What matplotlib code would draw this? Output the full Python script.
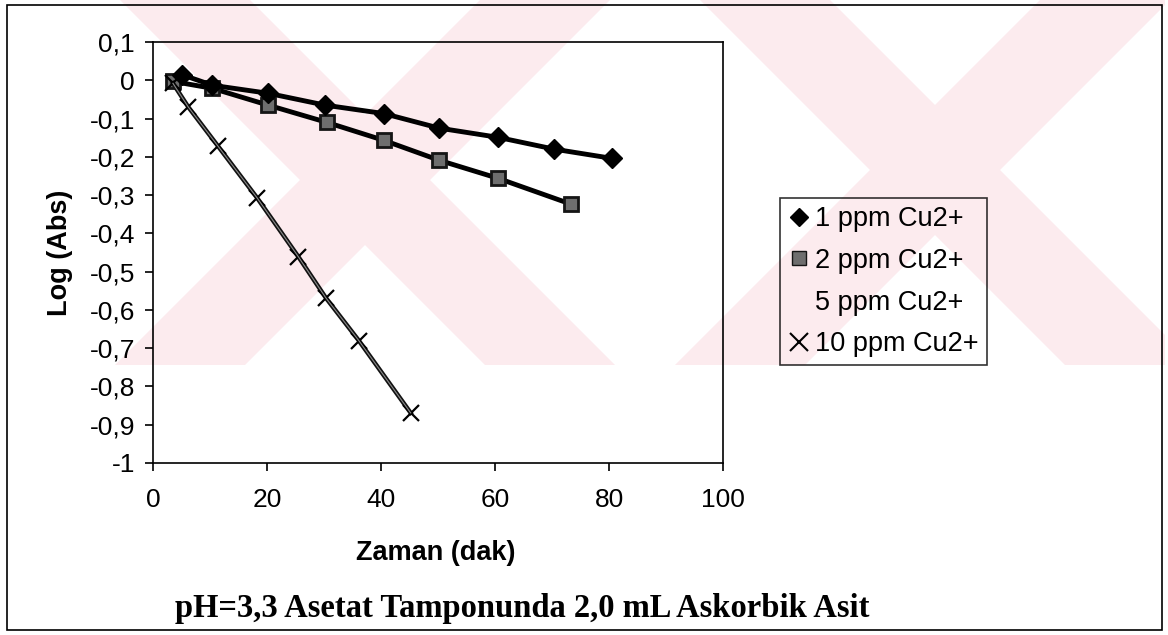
import matplotlib
matplotlib.use("Agg")
import matplotlib.pyplot as plt
from matplotlib.lines import Line2D
from matplotlib.patches import Polygon, Rectangle

# data (time in min, log absorbance)
t_1ppm = [5.0, 10.4, 20.2, 30.2, 40.5, 50.2, 60.5, 70.4, 80.5]
logabs_1ppm = [0.015, -0.013, -0.034, -0.065, -0.087, -0.125, -0.149, -0.180, -0.204]
t_2ppm = [3.5, 10.4, 20.2, 30.5, 40.5, 50.2, 60.5, 73.4]
logabs_2ppm = [-0.003, -0.021, -0.065, -0.110, -0.157, -0.209, -0.256, -0.324]
t_5ppm = []
logabs_5ppm = []
t_10ppm = [3.5, 6.2, 11.4, 18.3, 25.5, 30.3, 36.1, 45.2]
logabs_10ppm = [-0.008, -0.070, -0.172, -0.308, -0.461, -0.568, -0.680, -0.869]

labels = ["1 ppm Cu2+", "2 ppm Cu2+", "5 ppm Cu2+", "10 ppm Cu2+"]
xticks = [0, 20, 40, 60, 80, 100]
yticks = [0.1, 0, -0.1, -0.2, -0.3, -0.4, -0.5, -0.6, -0.7, -0.8, -0.9, -1]

W, H = 1168, 635
fig = plt.figure(figsize=(W / 100, H / 100), dpi=100)
fig.patch.set_facecolor("white")

def fx(px):
    return px / W

def fy(py):
    return 1 - py / H

# faint watermark in the background
pink = "#fcebee"
bands = [
    [(120, 0), (250, 0), (615, 365), (485, 365)],
    [(480, 0), (610, 0), (245, 365), (115, 365)],
    [(700, 0), (830, 0), (1165, 335), (1165, 365), (1065, 365)],
    [(1040, 0), (1165, 0), (1165, 5), (805, 365), (675, 365)],
]
for b in bands:
    fig.add_artist(Polygon([(fx(x), fy(y)) for x, y in b], closed=True,
                           transform=fig.transFigure, facecolor=pink,
                           edgecolor="none", zorder=0))

# outer frame
fig.add_artist(Rectangle((fx(7), fy(630)), fx(1162) - fx(7), fy(5) - fy(630),
                         transform=fig.transFigure, fill=False,
                         edgecolor="black", linewidth=1.2, zorder=1))

ax = fig.add_axes([fx(153), fy(463), fx(723) - fx(153), fy(42) - fy(463)])
ax.patch.set_alpha(0)
ax.set_zorder(2)

ax.plot(t_1ppm, logabs_1ppm, color="black", lw=3.5, marker="D",
        markersize=10, markerfacecolor="black", markeredgecolor="black", zorder=4)
ax.plot(t_2ppm, logabs_2ppm, color="black", lw=3.5, marker="s",
        markersize=10, markerfacecolor="#6e6e6e", markeredgecolor="#151515",
        markeredgewidth=2, zorder=3)
ax.plot(t_5ppm, logabs_5ppm, color="black", lw=2)
ax.plot(t_10ppm, logabs_10ppm, color="#111111", lw=3.2, marker="x",
        markersize=12, markeredgewidth=1.6, markeredgecolor="black", zorder=3)
ax.plot(t_10ppm, logabs_10ppm, color="#8a8a8a", lw=0.8, zorder=3)

ax.set_xlim(0, 100)
ax.set_ylim(-1, 0.1)
ax.set_xticks(xticks)
ax.set_xticklabels([str(v) for v in xticks])
ax.set_yticks(yticks)
ax.set_yticklabels([("%g" % v).replace(".", ",") for v in yticks])
ax.tick_params(direction="out", length=6, width=1.2, colors="black")
ax.tick_params(axis="x", pad=12)
ax.tick_params(axis="y", pad=7)
for lab in ax.get_xticklabels() + ax.get_yticklabels():
    lab.set_fontfamily("Liberation Sans")
    lab.set_fontsize(19)
for sp in ax.spines.values():
    sp.set_linewidth(1.2)
    sp.set_color("black")

fig.text(fx(60), fy(253), "Log (Abs)", rotation=90, ha="center", va="center",
         fontfamily="Liberation Sans", fontweight="bold", fontsize=19.5)
fig.text(fx(436), fy(553), "Zaman (dak)", ha="center", va="center",
         fontfamily="Liberation Sans", fontweight="bold", fontsize=19.5)
fig.text(fx(522), fy(609), "pH=3,3 Asetat Tamponunda 2,0 mL Askorbik Asit",
         ha="center", va="center", fontfamily="Liberation Serif",
         fontweight="bold", fontsize=23.5)

handles = [
    Line2D([], [], ls="none", marker="D", markersize=9, color="black"),
    Line2D([], [], ls="none", marker="s", markersize=10,
           markerfacecolor="#6e6e6e", markeredgecolor="#151515"),
    Line2D([], [], ls="none", marker="none"),
    Line2D([], [], ls="none", marker="x", markersize=13, markeredgewidth=1.5,
           color="black"),
]
leg = fig.legend(handles, labels, loc="upper left",
                 bbox_to_anchor=(fx(780), fy(198)), bbox_transform=fig.transFigure,
                 prop={"family": "Liberation Sans", "size": 19.5},
                 frameon=True, fancybox=False, borderpad=0.3,
                 labelspacing=0.58, handlelength=0.8, handletextpad=0.2,
                 borderaxespad=0)
leg.get_frame().set_edgecolor("black")
leg.get_frame().set_linewidth(1.2)
leg.get_frame().set_facecolor("none")
leg.set_zorder(5)

fig.savefig("out.png", dpi=100)
